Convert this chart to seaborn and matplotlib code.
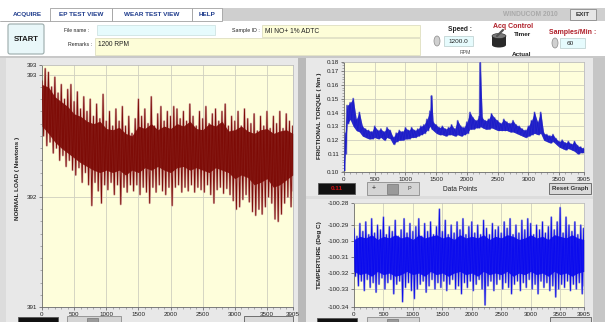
import numpy as np
import pandas as pd
import matplotlib
matplotlib.use("Agg")
import matplotlib.pyplot as plt
import seaborn as sns
from matplotlib.patches import Rectangle, FancyBboxPatch, Ellipse

sns.set_theme(style="white")
plt.rcParams['font.family'] = ['Liberation Sans', 'DejaVu Sans']

W, H = 605, 322

# ---------------- data ----------------
x_ticks = [0, 500, 1000, 1500, 2000, 2500, 3000, 3500, 3905]
x_tick_labels = ["0", "500", "1000", "1500", "2000", "2500", "3000", "3500", "3905"]

# NORMAL LOAD: spike extremes every 50 points, dense core every 100 points
load_x = list(range(0, 3901, 50))
load_hi = [392.95, 393.05, 393.02, 392.90, 392.98, 392.85, 392.92, 392.80, 392.88, 392.92,
           392.78, 392.86, 392.72, 392.82, 392.70, 392.80, 392.66, 392.76, 392.64, 392.84,
           392.62, 392.70, 392.58, 392.72, 392.62, 392.74, 392.58, 392.66, 392.52, 392.64,
           392.80, 392.66, 392.72, 392.60, 392.82, 392.58, 392.68, 392.74, 392.62, 392.70,
           392.66, 392.74, 392.72, 392.64, 392.70, 392.62, 392.76, 392.66, 392.58, 392.70,
           392.64, 392.74, 392.60, 392.68, 392.72, 392.62, 392.70, 392.76, 392.58, 392.66,
           392.62, 392.70, 392.58, 392.72, 392.64, 392.60, 392.68, 392.54, 392.66, 392.58,
           392.70, 392.56, 392.66, 392.60, 392.70, 392.56, 392.68, 392.62, 392.58]
load_lo = [392.50, 392.42, 392.45, 392.36, 392.40, 392.30, 392.34, 392.25, 392.30, 392.22,
           392.18, 392.24, 392.12, 392.20, 392.10, 391.93, 392.12, 392.05, 391.95, 392.10,
           392.06, 392.12, 392.02, 392.10, 391.94, 392.08, 392.04, 392.10, 392.05, 392.10,
           392.02, 392.08, 392.04, 391.95, 392.08, 392.04, 392.10, 392.05, 392.02, 392.08,
           391.93, 392.08, 392.10, 392.04, 392.08, 392.05, 392.10, 392.04, 392.08, 392.06,
           392.04, 392.10, 392.02, 391.95, 392.06, 392.08, 392.03, 392.07, 392.02, 391.97,
           391.90, 391.92, 391.98, 392.02, 391.96, 391.88, 391.85, 391.90, 391.86, 391.92,
           392.00, 391.95, 391.82, 391.80, 391.86, 391.95, 392.00, 391.92, 392.05]
load_core_x = list(range(0, 3901, 100))
load_core_hi = [392.92, 392.90, 392.82, 392.78, 392.74, 392.68, 392.66, 392.62, 392.60, 392.62,
                392.56, 392.55, 392.57, 392.52, 392.50, 392.58, 392.56, 392.60, 392.55, 392.58,
                392.56, 392.60, 392.58, 392.62, 392.56, 392.55, 392.60, 392.58, 392.62, 392.54,
                392.55, 392.58, 392.54, 392.52, 392.55, 392.56, 392.52, 392.54, 392.55, 392.52]
load_core_lo = [392.58, 392.52, 392.45, 392.40, 392.36, 392.32, 392.28, 392.25, 392.22, 392.20,
                392.22, 392.20, 392.22, 392.18, 392.22, 392.20, 392.24, 392.22, 392.25, 392.22,
                392.20, 392.24, 392.25, 392.22, 392.24, 392.22, 392.20, 392.24, 392.22, 392.20,
                392.15, 392.18, 392.16, 392.10, 392.12, 392.15, 392.08, 392.10, 392.14, 392.18]
load_ticks = [391.1, 392, 393, 393.08]
load_tick_labels = ["391", "392", "393", "393"]

# FRICTIONAL TORQUE band
torque_x = [0, 20, 50, 100, 150, 200, 250, 300, 350, 400, 450, 500, 550, 600, 650, 700, 750,
            800, 850, 900, 950, 1000, 1050, 1100, 1150, 1200, 1250, 1300, 1350, 1400, 1425,
            1450, 1500, 1550, 1600, 1650, 1700, 1750, 1800, 1850, 1900, 1950, 2000, 2050,
            2100, 2150, 2200, 2215, 2250, 2300, 2350, 2400, 2450, 2500, 2550, 2600, 2650,
            2700, 2750, 2800, 2850, 2900, 2950, 3000, 3050, 3100, 3150, 3200, 3250, 3300,
            3350, 3400, 3450, 3500, 3550, 3600, 3650, 3700, 3750, 3800, 3850, 3900]
torque_hi = [0.105, 0.125, 0.145, 0.147, 0.150, 0.135, 0.140, 0.130, 0.128, 0.127, 0.126,
             0.130, 0.127, 0.128, 0.126, 0.129, 0.127, 0.122, 0.125, 0.127, 0.126, 0.129,
             0.127, 0.129, 0.127, 0.128, 0.130, 0.131, 0.135, 0.141, 0.152, 0.133, 0.131,
             0.129, 0.130, 0.128, 0.129, 0.131, 0.128, 0.134, 0.130, 0.129, 0.133, 0.140,
             0.136, 0.134, 0.137, 0.178, 0.136, 0.134, 0.135, 0.139, 0.136, 0.134, 0.132,
             0.135, 0.133, 0.132, 0.134, 0.131, 0.130, 0.128, 0.127, 0.130, 0.134, 0.140,
             0.133, 0.140, 0.125, 0.124, 0.123, 0.124, 0.121, 0.119, 0.120, 0.118, 0.119,
             0.117, 0.119, 0.116, 0.115, 0.114]
torque_lo = [0.098, 0.110, 0.132, 0.135, 0.130, 0.127, 0.126, 0.123, 0.122, 0.121, 0.121,
             0.122, 0.121, 0.122, 0.120, 0.122, 0.121, 0.117, 0.119, 0.120, 0.120, 0.121,
             0.121, 0.122, 0.122, 0.123, 0.124, 0.125, 0.127, 0.130, 0.128, 0.127, 0.125,
             0.124, 0.124, 0.123, 0.124, 0.124, 0.123, 0.124, 0.123, 0.124, 0.125, 0.128,
             0.128, 0.129, 0.129, 0.130, 0.129, 0.128, 0.128, 0.129, 0.128, 0.127, 0.127,
             0.127, 0.127, 0.126, 0.126, 0.125, 0.124, 0.123, 0.122, 0.123, 0.124, 0.125,
             0.124, 0.125, 0.120, 0.119, 0.118, 0.119, 0.117, 0.115, 0.114, 0.113, 0.114,
             0.113, 0.112, 0.110, 0.111, 0.111]
torque_ticks = [0.0970, 0.11, 0.12, 0.13, 0.14, 0.15, 0.16, 0.17, 0.1765]
torque_tick_labels = ["0.10", "0.11", "0.12", "0.13", "0.14", "0.15", "0.16", "0.17", "0.18"]

# TEMPERATURE: spike extremes every 50 points, dense core every 100 points
temp_x = list(range(0, 3901, 50))
temp_hi = [-100.292, -100.297, -100.289, -100.294, -100.288, -100.296, -100.286, -100.295, -100.290, -100.293,
           -100.285, -100.296, -100.291, -100.294, -100.287, -100.297, -100.293, -100.286, -100.295, -100.289,
           -100.294, -100.291, -100.286, -100.297, -100.289, -100.294, -100.288, -100.296, -100.291, -100.280,
           -100.294, -100.287, -100.296, -100.290, -100.295, -100.288, -100.293, -100.286, -100.296, -100.291,
           -100.288, -100.295, -100.290, -100.296, -100.287, -100.292, -100.296, -100.289, -100.293, -100.291,
           -100.295, -100.288, -100.292, -100.286, -100.296, -100.290, -100.295, -100.287, -100.293, -100.286,
           -100.289, -100.296, -100.290, -100.293, -100.288, -100.295, -100.291, -100.285, -100.293, -100.288,
           -100.279, -100.295, -100.285, -100.290, -100.294, -100.288, -100.296, -100.290, -100.292]
temp_lo = [-100.322, -100.328, -100.325, -100.331, -100.324, -100.329, -100.326, -100.332, -100.327, -100.323,
           -100.330, -100.326, -100.324, -100.333, -100.327, -100.325, -100.338, -100.329, -100.326, -100.331,
           -100.336, -100.330, -100.327, -100.325, -100.332, -100.328, -100.324, -100.330, -100.326, -100.329,
           -100.325, -100.331, -100.327, -100.324, -100.330, -100.328, -100.333, -100.326, -100.329, -100.325,
           -100.331, -100.327, -100.324, -100.330, -100.340, -100.328, -100.325, -100.331, -100.327, -100.324,
           -100.330, -100.326, -100.329, -100.333, -100.327, -100.325, -100.331, -100.326, -100.329, -100.324,
           -100.330, -100.327, -100.333, -100.325, -100.329, -100.326, -100.331, -100.328, -100.335, -100.330,
           -100.327, -100.329, -100.325, -100.331, -100.327, -100.330, -100.326, -100.333, -100.328]
temp_core_x = list(range(0, 3901, 100))
temp_core_hi = [-100.299, -100.297, -100.298, -100.296, -100.299, -100.297, -100.298, -100.296, -100.298, -100.297,
                -100.299, -100.296, -100.298, -100.297, -100.296, -100.298, -100.297, -100.299, -100.296, -100.298,
                -100.297, -100.298, -100.296, -100.299, -100.297, -100.298, -100.296, -100.297, -100.299, -100.298,
                -100.296, -100.298, -100.297, -100.299, -100.296, -100.297, -100.298, -100.296, -100.298, -100.299]
temp_core_lo = [-100.319, -100.321, -100.320, -100.322, -100.319, -100.321, -100.320, -100.322, -100.321, -100.319,
                -100.321, -100.320, -100.322, -100.319, -100.321, -100.320, -100.322, -100.320, -100.319, -100.321,
                -100.320, -100.322, -100.319, -100.321, -100.320, -100.321, -100.319, -100.322, -100.320, -100.321,
                -100.319, -100.321, -100.320, -100.322, -100.319, -100.321, -100.320, -100.322, -100.320, -100.319]
temp_ticks = [-100.3413, -100.33, -100.32, -100.31, -100.30, -100.29, -100.2761]
temp_tick_labels = ["-100.34", "-100.33", "-100.32", "-100.31", "-100.30", "-100.29", "-100.28"]

# ---------------- figure ----------------
fig = plt.figure(figsize=(W / 100, H / 100), dpi=100)
fig.patch.set_facecolor("white")

bg = fig.add_axes([0, 0, 1, 1])
bg.set_xlim(0, W)
bg.set_ylim(H, 0)
bg.axis("off")
bg.set_zorder(-5)


def box(x0, y0, x1, y1, fc, ec="none", lw=0.6, z=1):
    bg.add_patch(Rectangle((x0, y0), x1 - x0, y1 - y0, facecolor=fc, edgecolor=ec, lw=lw, zorder=z))


def txt(x, y, s, size=4.6, color="#222222", weight="bold", ha="left", va="center", **kw):
    bg.text(x, y, s, fontsize=size, color=color, fontweight=weight, ha=ha, va=va, zorder=5, **kw)


# panel backgrounds
box(0, 57, W, H, "#dcdcdc")
box(6, 58, 298, H, "#e8e8e8")
box(298, 57, 306, H, "#b9b9b9")
box(306, 58, 593, 196, "#e8e8e8")
box(306, 199, 593, H, "#e8e8e8")
box(593, 57, W, H, "#c6c6c6")
box(0, 56, W, 57.5, "#c8c8c8")

# tab bar
box(222, 8, W, 21, "#cfcfcf")
txt(530, 14.5, "WINDUCOM 2010", size=4.8, color="#a9a9a9", ha="center")
box(570, 9, 596, 20, "#e6e6e6", ec="#8a8a8a", lw=0.6, z=2)
txt(583, 14.5, "EXIT", size=4.6, ha="center", color="#333333")
for (x0, x1) in [(50, 112), (112, 192), (192, 222)]:
    box(x0, 8, x1, 21, "white", ec="#a0a0a0", lw=0.6, z=2)
tab_color = "#1f3c8c"
txt(13, 14.5, "ACQUIRE", color=tab_color)
txt(81, 14.5, "EP TEST VIEW", color=tab_color, ha="center")
txt(152, 14.5, "WEAR TEST VIEW", color=tab_color, ha="center")
txt(207, 14.5, "HELP", color=tab_color, ha="center")
bg.plot([0, 50], [21, 21], color="#a0a0a0", lw=0.6, zorder=2)

# START button
bg.add_patch(FancyBboxPatch((8, 24), 36, 30, boxstyle="round,pad=0,rounding_size=2",
                            facecolor="#e9f7f9", edgecolor="#9aaaaa", lw=0.8, zorder=2))
txt(26, 39.5, "START", size=5.6, ha="center", color="#1a1a1a")

# text fields
txt(64, 30.5, "File name :", size=3.6, weight="normal")
box(97, 25, 215, 35, "#e6fbfd", ec="#c8dede", lw=0.5, z=2)
txt(232, 30.5, "Sample ID :", size=3.8, weight="normal")
box(262, 25, 420, 37, "#fdfdd8", ec="#d8d8b8", lw=0.5, z=2)
txt(265, 31, "MI NO+ 1% ADTC", size=4.8, weight="normal")
txt(68, 44, "Remarks :", size=3.8, weight="normal")
box(95, 38, 420, 55, "#fdfdd8", ec="#d8d8b8", lw=0.5, z=2)
txt(98, 44, "1200 RPM", size=4.8, weight="normal")

# speed
txt(460, 29, "Speed :", size=4.8, ha="center")
bg.add_patch(Ellipse((437, 41), 6, 10, facecolor="#d0d0d0", edgecolor="#8a8a8a", lw=0.5, zorder=2))
box(444, 36, 473, 46, "#e6fbfd", ec="#b8cccc", lw=0.5, z=2)
txt(458.5, 41, "1200.0", size=4.6, weight="normal", ha="center")
txt(465, 52, "RPM", size=3.8, weight="normal", color="#555555", ha="center")

# acq control
txt(513, 26.5, "Acq Control", size=5.0, color="#b0202a", ha="center")
txt(523, 34.5, "Timer", size=4.6, ha="center")
bg.add_patch(Rectangle((492, 36), 14, 9, facecolor="#2a2a2a", edgecolor="none", zorder=2))
bg.add_patch(Ellipse((499, 36), 14, 5, facecolor="#7a7a7a", edgecolor="#222222", lw=0.4, zorder=3))
bg.add_patch(Ellipse((499, 45), 14, 5, facecolor="#2a2a2a", edgecolor="none", zorder=2))
bg.plot([497, 503], [36, 30], color="#555555", lw=1.6, zorder=3)
txt(522, 54, "Actual", size=4.6, ha="center")

# samples/min
txt(573, 32.5, "Samples/Min :", size=5.0, color="#b0202a", ha="center")
bg.add_patch(Ellipse((555, 43), 6, 10, facecolor="#d0d0d0", edgecolor="#8a8a8a", lw=0.5, zorder=2))
box(560, 38, 585, 48, "#e6fbfd", ec="#b8cccc", lw=0.5, z=2)
txt(570, 43, "60", size=4.6, weight="normal", ha="center")

# y labels
txt(18, 178, "NORMAL LOAD ( Newtons )", size=4.6, rotation=90, ha="center")
txt(320, 116, "FRICTIONAL TORQUE ( Nm )", size=4.6, rotation=90, ha="center")
txt(320, 255, "TEMPERTURE (Deg C)", size=4.6, rotation=90, ha="center")


# controls under graphs
def indicator(x0, y0, x1, y1, s):
    box(x0, y0, x1, y1, "#111111", ec="#555555", lw=0.6, z=2)
    if s:
        txt((x0 + x1) / 2, (y0 + y1) / 2, s, size=4.6, color="#d01010", ha="center")


def palette(x0, y0, x1, y1):
    box(x0, y0, x1, y1, "#d4d4d4", ec="#8c8c8c", lw=0.6, z=2)
    box(x0 + 20, y0 + 1.5, x0 + 31, y1 - 1.5, "#9a9a9a", ec="#666666", lw=0.4, z=3)


def button(x0, y0, x1, y1, s):
    box(x0, y0, x1, y1, "#dadada", ec="#6f6f6f", lw=0.7, z=2)
    if s:
        txt((x0 + x1) / 2, (y0 + y1) / 2, s, size=4.4, ha="center", color="#333333")


indicator(318, 183, 355, 194, "0.11")
palette(367, 182, 419, 195)
txt(372, 188.5, "+", size=5, weight="normal")
txt(408, 188.5, "P", size=4, weight="normal", color="#444444")
txt(460, 189, "Data Points", size=4.8, weight="normal", ha="center")
button(549, 183, 591, 194, "Reset Graph")

indicator(18, 317, 58, 326, "")
palette(67, 316, 121, 326)
button(244, 316, 293, 326, "")
indicator(317, 318, 357, 326, "")
palette(367, 317, 419, 326)
button(550, 317, 591, 326, "")


# ---------------- plot helpers ----------------
def px_axes(x0, y0, x1, y1):
    return fig.add_axes([x0 / W, 1 - y1 / H, (x1 - x0) / W, (y1 - y0) / H])


def zigzag_frame(xs, hi, lo):
    px, py = [], []
    for i, (x, h, l) in enumerate(zip(xs, hi, lo)):
        nxt = xs[i + 1] if i + 1 < len(xs) else x + 25
        px += [x, (x + nxt) / 2]
        py += [h, l]
    return pd.DataFrame({"x": px, "y": py})


PLOT_BG = "#fefedb"
GRID = "#cfcfbf"


def style_axes(ax, ylim, yticks, ylabels, gridvals, yminor=None):
    ax.set_facecolor(PLOT_BG)
    ax.set_xlim(0, 3905)
    ax.set_ylim(*ylim)
    ax.set_xticks(x_ticks)
    ax.set_xticklabels(x_tick_labels)
    ax.set_yticks(yticks)
    ax.set_yticklabels(ylabels)
    ax.set_xticks(list(range(100, 3905, 100)), minor=True)
    if yminor is not None:
        ax.set_yticks(yminor, minor=True)
    ax.tick_params(axis="both", which="major", labelsize=4.5, length=2.2, width=0.5,
                   color="#555555", pad=1.2, labelcolor="#222222", direction="out")
    ax.tick_params(axis="both", which="minor", length=1.2, width=0.4, color="#777777", direction="out")
    ax.tick_params(left=True, bottom=True, which="both")
    for x in x_ticks[1:-1]:
        ax.axvline(x, color=GRID, lw=0.6, zorder=0.5)
    for y in gridvals:
        ax.axhline(y, color=GRID, lw=0.6, zorder=0.5)
    for s in ["top", "right"]:
        ax.spines[s].set_color("#bdbdbd")
        ax.spines[s].set_linewidth(0.6)
    for s in ["left", "bottom"]:
        ax.spines[s].set_color("#6a6a6a")
        ax.spines[s].set_linewidth(0.6)
    ax.set_xlabel("")
    ax.set_ylabel("")


def draw_signal(ax, xs, hi, lo, halo, dark, core=None, lw=0.55):
    d = zigzag_frame(xs, hi, lo)
    sns.lineplot(data=d, x="x", y="y", ax=ax, sort=False, estimator=None, color=halo, lw=1.5, zorder=2)
    if core is not None:
        cx, chi, clo = core
        ax.fill_between(cx, clo, chi, color=halo, lw=0, zorder=2.5)
        ax.fill_between(cx, clo, chi, color=dark, lw=0, alpha=0.9, zorder=2.6)
    sns.lineplot(data=d, x="x", y="y", ax=ax, sort=False, estimator=None, color=dark, lw=lw, zorder=3)


# ---------------- left: normal load ----------------
ax1 = px_axes(42, 65, 293, 307)
draw_signal(ax1, load_x, load_hi, load_lo, "#cf9f9a", "#7d0a05",
            core=(load_core_x, load_core_hi, load_core_lo), lw=0.6)
style_axes(ax1, (391.1, 393.08), load_ticks, load_tick_labels, [392, 393],
           yminor=[391.2, 391.3, 391.4, 391.5, 391.6, 391.7, 391.8, 391.9, 392.1, 392.2, 392.3,
                   392.4, 392.5, 392.6, 392.7, 392.8, 392.9])

# ---------------- top right: torque ----------------
ax2 = px_axes(344, 62, 584, 172)
draw_signal(ax2, torque_x, torque_hi, torque_lo, "#9c9ccc", "#1c1cc8",
            core=(torque_x, torque_hi, torque_lo), lw=0.6)
style_axes(ax2, (0.0970, 0.1765), torque_ticks, torque_tick_labels,
           [0.11, 0.12, 0.13, 0.14, 0.15, 0.16, 0.17],
           yminor=[v / 1000 for v in range(98, 177, 2)])

# ---------------- bottom right: temperature ----------------
ax3 = px_axes(354, 203, 584, 307)
draw_signal(ax3, temp_x, temp_hi, temp_lo, "#9a9ad6", "#0a0aee",
            core=(temp_core_x, temp_core_hi, temp_core_lo), lw=0.6)
style_axes(ax3, (-100.3413, -100.2761), temp_ticks, temp_tick_labels,
           [-100.33, -100.32, -100.31, -100.30, -100.29])

for ax in (ax1, ax2, ax3):
    if ax.get_legend():
        ax.get_legend().remove()

fig.savefig("out.png", dpi=100, facecolor=fig.get_facecolor())
